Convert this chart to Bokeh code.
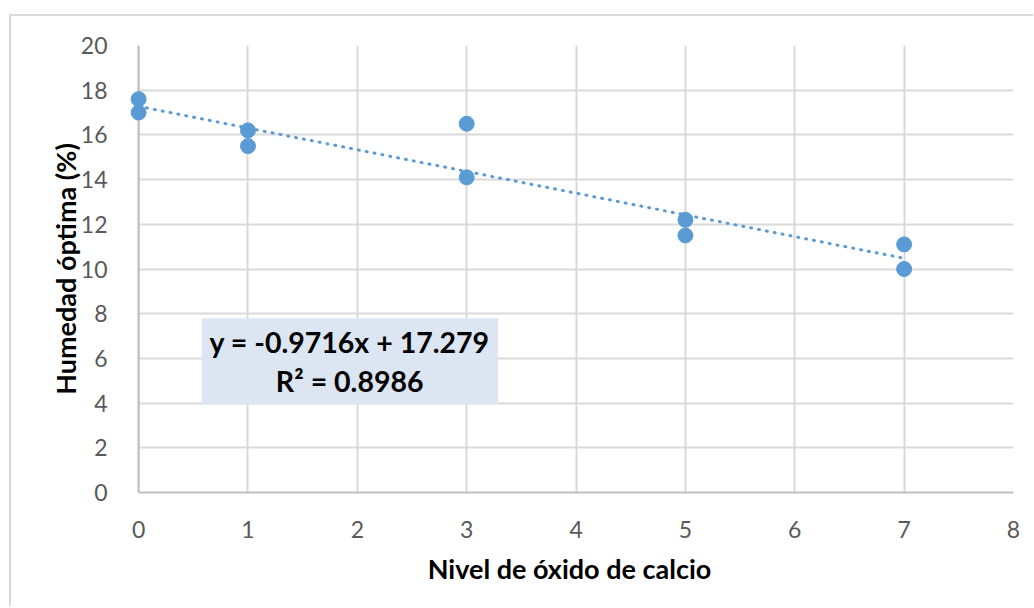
import numpy as np
from bokeh.plotting import figure
from bokeh.models import Range1d, FixedTicker, Label, BoxAnnotation, ColumnDataSource, Span
from bokeh.embed import file_html
from bokeh.resources import INLINE

# Data
calcium_level = [0, 0, 1, 1, 3, 3, 5, 5, 7, 7]
optimal_moisture = [17.6, 17.0, 16.2, 15.5, 16.5, 14.1, 12.2, 11.5, 11.1, 10.0]
slope = -0.9716
intercept = 17.279
r_squared = 0.8986
x_ticks = [0, 1, 2, 3, 4, 5, 6, 7, 8]
y_ticks = [0, 2, 4, 6, 8, 10, 12, 14, 16, 18, 20]
x_title = "Nivel de óxido de calcio"
y_title = "Humedad óptima (%)"

BLUE = "#5b9bd5"
GRID = "#d9d9d9"
FONT = "Lato"
X_PAD = 0.12

p = figure(width=1024, height=592, output_backend="svg", toolbar_location=None,
           x_range=Range1d(-X_PAD, 8), y_range=Range1d(0, 20),
           min_border_left=114, min_border_right=22, min_border_top=29, min_border_bottom=116)
p.margin = (16, 0, 0, 11)
p.styles = {"box-shadow": "-2px -2px 0 0 #d9d9d9"}

p.outline_line_color = None
p.background_fill_color = "white"
p.border_fill_color = "white"

for ax in (p.xaxis[0], p.yaxis[0]):
    ax.major_tick_line_color = None
    ax.minor_tick_line_color = None
    ax.axis_line_color = "#bfbfbf"
    ax.axis_line_width = 2
    ax.major_label_text_font = FONT
    ax.major_label_text_font_size = "23px"
    ax.major_label_text_color = "#595959"
    ax.axis_label_text_font = FONT
    ax.axis_label_text_font_style = "bold"
    ax.axis_label_text_font_size = "27px"
    ax.axis_label_text_color = "#000000"

p.yaxis.axis_line_color = None
p.xaxis.bounds = (0, 8)
p.xaxis.ticker = FixedTicker(ticks=x_ticks)
p.yaxis.ticker = FixedTicker(ticks=y_ticks)
p.xaxis.major_label_standoff = 22
p.yaxis.major_label_standoff = 12
p.xaxis.axis_label = x_title
p.yaxis.axis_label = y_title
p.xaxis.axis_label_standoff = 11
p.yaxis.axis_label_standoff = -4

p.xgrid.grid_line_color = GRID
p.ygrid.grid_line_color = GRID
p.xgrid.grid_line_width = 2
p.ygrid.grid_line_width = 2
try:
    p.ygrid.cross_bounds = (0, 8)
except Exception:
    pass

# y axis line at x = 0
p.add_layout(Span(location=0, dimension="height", line_color="#bfbfbf", line_width=2, level="underlay"))

# Trendline from equation
xs = np.array([min(calcium_level), max(calcium_level)], dtype=float)
ys = slope * xs + intercept
p.line(xs, ys, line_color=BLUE, line_width=3, line_dash="1 7", line_cap="round")

src = ColumnDataSource(dict(x=calcium_level, y=optimal_moisture))
p.scatter("x", "y", source=src, size=15, fill_color=BLUE, line_color=BLUE)

# Equation box
p.add_layout(BoxAnnotation(left=0.577, right=3.286, bottom=3.95, top=7.80,
                           fill_color="#dce6f2", fill_alpha=1.0, line_color=None, level="overlay"))
eq1 = f"y = {slope}x + {intercept}"
eq2 = f"R² = {r_squared}"
for yy, txt in ((6.72, eq1), (5.0, eq2)):
    p.add_layout(Label(x=1.93, y=yy, text=txt, text_align="center", text_baseline="middle",
                       text_font=FONT, text_font_style="bold", text_font_size="28.5px",
                       text_color="black", level="overlay"))

open("out.html", "w").write(file_html(p, INLINE))
